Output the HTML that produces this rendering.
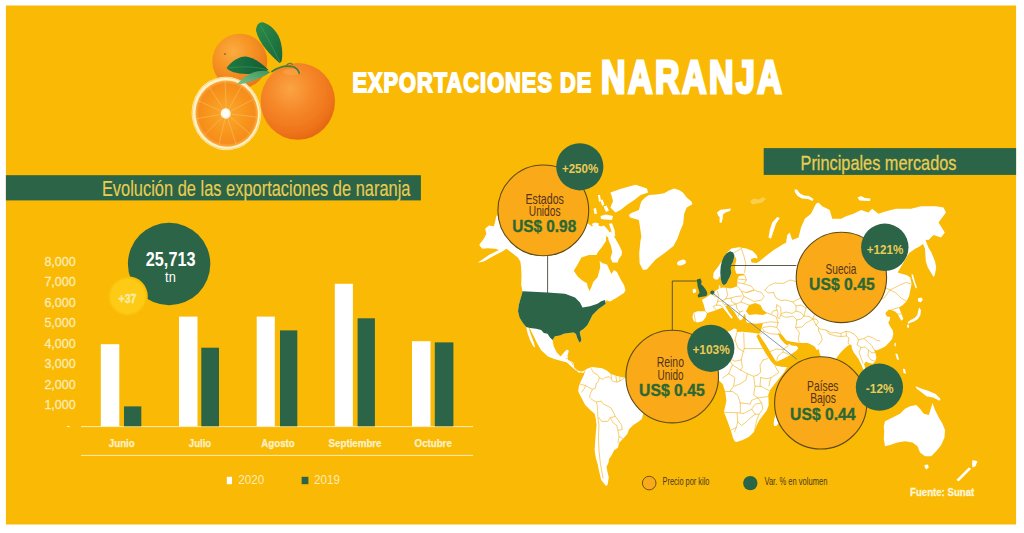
<!DOCTYPE html>
<html lang="es"><head><meta charset="utf-8"><title>Exportaciones de naranja</title>
<style>
html,body{margin:0;padding:0;background:#fff;}
body{width:1024px;height:533px;overflow:hidden;}
svg{display:block;font-family:"Liberation Sans",sans-serif;}
</style></head><body>
<svg width="1024" height="533" viewBox="0 0 1024 533">
<defs>
<radialGradient id="gBack" cx="0.38" cy="0.32" r="0.75">
  <stop offset="0" stop-color="#FBAC40"/><stop offset="0.45" stop-color="#F69324"/><stop offset="1" stop-color="#E87418"/>
</radialGradient>
<radialGradient id="gFront" cx="0.40" cy="0.34" r="0.72">
  <stop offset="0" stop-color="#FBA443"/><stop offset="0.4" stop-color="#F6892A"/><stop offset="0.8" stop-color="#EE731A"/><stop offset="1" stop-color="#E0640F"/>
</radialGradient>
<radialGradient id="gFlesh" cx="0.5" cy="0.5" r="0.5">
  <stop offset="0" stop-color="#FAA832"/><stop offset="0.55" stop-color="#F8981F"/><stop offset="0.9" stop-color="#F68C1E"/><stop offset="1" stop-color="#FBB040"/>
</radialGradient>
<linearGradient id="gLeaf1" x1="0" y1="0" x2="1" y2="1">
  <stop offset="0" stop-color="#2E8B4A"/><stop offset="1" stop-color="#17683A"/>
</linearGradient>
<linearGradient id="gLeaf2" x1="0" y1="0" x2="1" y2="0">
  <stop offset="0" stop-color="#1F7A42"/><stop offset="1" stop-color="#125C33"/>
</linearGradient>
<linearGradient id="gLeaf3" x1="0" y1="1" x2="1" y2="0">
  <stop offset="0" stop-color="#7DBE8C"/><stop offset="1" stop-color="#3E955A"/>
</linearGradient>
<filter id="soft" x="-5%" y="-5%" width="110%" height="110%"><feGaussianBlur stdDeviation="0.45"/></filter>
<filter id="soft2" x="-10%" y="-10%" width="120%" height="120%"><feGaussianBlur stdDeviation="0.9"/></filter>

</defs>
<rect x="0" y="0" width="1024" height="533" fill="#fff"/>
<rect x="5.9" y="5.5" width="1010.2" height="519" fill="#F9B905"/>
<g id="oranges" filter="url(#soft)">
<circle cx="239.8" cy="61.2" r="27.5" fill="url(#gBack)"/>
<circle cx="225" cy="54" r="1.1" fill="#8a5a1a" opacity="0.7"/>
<ellipse cx="297.8" cy="101.4" rx="37.2" ry="38.4" fill="url(#gFront)"/>
<ellipse cx="292" cy="72" rx="9" ry="3.2" fill="#F9A94C" opacity="0.55"/>
<g transform="rotate(-8 226.3 113.4)">
<ellipse cx="226.3" cy="113.4" rx="34.6" ry="36.8" fill="#FFF1C8"/>
<ellipse cx="226.3" cy="113.4" rx="33.800000000000004" ry="36.0" fill="none" stroke="#FAD06A" stroke-width="0.8"/>
<ellipse cx="226.70000000000002" cy="113.7" rx="31.200000000000003" ry="33.199999999999996" fill="url(#gFlesh)"/>
<path d="M231.3 114.7 L255.8 121.4" stroke="#FCC45E" stroke-width="0.9" opacity="0.55"/>
<path d="M229.8 117.4 L247.0 137.1" stroke="#FCC45E" stroke-width="0.9" opacity="0.55"/>
<path d="M227.2 118.7 L231.7 145.3" stroke="#FCC45E" stroke-width="0.9" opacity="0.55"/>
<path d="M224.3 118.4 L214.7 143.3" stroke="#FCC45E" stroke-width="0.9" opacity="0.55"/>
<path d="M222.0 116.5 L201.3 131.9" stroke="#FCC45E" stroke-width="0.9" opacity="0.55"/>
<path d="M221.1 113.6 L195.9 114.6" stroke="#FCC45E" stroke-width="0.9" opacity="0.55"/>
<path d="M221.8 110.6 L200.2 96.9" stroke="#FCC45E" stroke-width="0.9" opacity="0.55"/>
<path d="M224.0 108.6 L212.7 84.4" stroke="#FCC45E" stroke-width="0.9" opacity="0.55"/>
<path d="M226.9 108.0 L229.6 81.2" stroke="#FCC45E" stroke-width="0.9" opacity="0.55"/>
<path d="M229.6 109.2 L245.4 88.2" stroke="#FCC45E" stroke-width="0.9" opacity="0.55"/>
<path d="M231.2 111.7 L255.1 103.2" stroke="#FCC45E" stroke-width="0.9" opacity="0.55"/>
<ellipse cx="225.70000000000002" cy="113.4" rx="5" ry="5.2" fill="#FFF6DC"/>
<ellipse cx="225.70000000000002" cy="113.4" rx="3.2" ry="3.4" fill="#fff"/>
</g>
<path d="M272 71.5 Q283 64 294 67 Q298.5 69.5 299.2 73.2" fill="none" stroke="#3F7F3A" stroke-width="1.7" stroke-linecap="round"/>
<path d="M286 65.6 Q290 61.5 292.5 64.5" fill="none" stroke="#5c7a2e" stroke-width="1.1" stroke-linecap="round"/>
<path d="M279.5 63 C270 55 259 43 256 30.5 C256.2 24.5 259.5 21.8 262.8 22.2 C269.5 24 276.5 30.5 279.4 38 C282.4 46 283 55 281.4 61.8 Z" fill="url(#gLeaf1)"/>
<path d="M279.8 62 C273 48 266 35 260.5 25.5" fill="none" stroke="#4FA868" stroke-width="0.6" opacity="0.8"/>
<path d="M268.5 70 C263 64 255 58 246 56.4 C240 56 231 61 226.6 68 C229 71.5 236 73.6 246.4 74 C255 74.2 263 72.8 268.5 70 Z" fill="url(#gLeaf2)"/>
<path d="M267 69.8 C256 66.5 242 66 228.5 68" fill="none" stroke="#4FA868" stroke-width="0.6" opacity="0.7"/>
<path d="M270.5 72 C265 70 258 70.6 251 73.4 C245 76 240 80 237 84.6 C242 84.4 249 82.4 256 79.6 C262 77.2 267 75 270.5 72 Z" fill="url(#gLeaf3)"/>
</g>
<text x="352.4" y="92.4" font-size="27.4" fill="#fff" font-weight="bold" text-anchor="start" textLength="240" lengthAdjust="spacingAndGlyphs" stroke="#fff" stroke-width="1.8" stroke-linejoin="miter" letter-spacing="1.3">EXPORTACIONES DE</text>
<text x="600.9" y="92.5" font-size="46.4" fill="#fff" font-weight="bold" text-anchor="start" textLength="183.4" lengthAdjust="spacingAndGlyphs" stroke="#fff" stroke-width="3.0" stroke-linejoin="miter" letter-spacing="3.4">NARANJA</text>
<rect x="5.9" y="175.2" width="415" height="25.2" fill="#2B6446"/>
<text x="101.9" y="196.0" font-size="21.2" fill="#E9CD52" font-weight="normal" text-anchor="start" textLength="308.6" lengthAdjust="spacingAndGlyphs" stroke="#E9CD52" stroke-width="0.15">Evolución de las exportaciones de naranja</text>
<text x="44.4" y="265.7" font-size="12.6" fill="#FDEBB5" font-weight="normal" text-anchor="start" textLength="31.4" lengthAdjust="spacingAndGlyphs" stroke="#FDEBB5" stroke-width="0.3">8,000</text>
<text x="44.4" y="286.2" font-size="12.6" fill="#FDEBB5" font-weight="normal" text-anchor="start" textLength="31.4" lengthAdjust="spacingAndGlyphs" stroke="#FDEBB5" stroke-width="0.3">7,000</text>
<text x="44.4" y="306.7" font-size="12.6" fill="#FDEBB5" font-weight="normal" text-anchor="start" textLength="31.4" lengthAdjust="spacingAndGlyphs" stroke="#FDEBB5" stroke-width="0.3">6,000</text>
<text x="44.4" y="327.2" font-size="12.6" fill="#FDEBB5" font-weight="normal" text-anchor="start" textLength="31.4" lengthAdjust="spacingAndGlyphs" stroke="#FDEBB5" stroke-width="0.3">5,000</text>
<text x="44.4" y="347.7" font-size="12.6" fill="#FDEBB5" font-weight="normal" text-anchor="start" textLength="31.4" lengthAdjust="spacingAndGlyphs" stroke="#FDEBB5" stroke-width="0.3">4,000</text>
<text x="44.4" y="368.2" font-size="12.6" fill="#FDEBB5" font-weight="normal" text-anchor="start" textLength="31.4" lengthAdjust="spacingAndGlyphs" stroke="#FDEBB5" stroke-width="0.3">3,000</text>
<text x="44.4" y="388.7" font-size="12.6" fill="#FDEBB5" font-weight="normal" text-anchor="start" textLength="31.4" lengthAdjust="spacingAndGlyphs" stroke="#FDEBB5" stroke-width="0.3">2,000</text>
<text x="44.4" y="409.2" font-size="12.6" fill="#FDEBB5" font-weight="normal" text-anchor="start" textLength="31.4" lengthAdjust="spacingAndGlyphs" stroke="#FDEBB5" stroke-width="0.3">1,000</text>
<text x="66.5" y="430" font-size="12" fill="#FDEBB5" font-weight="normal" text-anchor="start">-</text>
<rect x="81" y="426.1" width="392" height="1" fill="#FDEBB5"/>
<rect x="81" y="454.9" width="392" height="1" fill="#FDEBB5"/>
<rect x="100.8" y="344.2" width="18.5" height="82.1" fill="#fff"/>
<rect x="124.0" y="406.4" width="17.3" height="19.9" fill="#2B6446"/>
<rect x="179.0" y="316.6" width="18.5" height="109.7" fill="#fff"/>
<rect x="201.3" y="347.7" width="17.7" height="78.6" fill="#2B6446"/>
<rect x="256.7" y="316.6" width="18.1" height="109.7" fill="#fff"/>
<rect x="280.0" y="330.4" width="17.3" height="95.9" fill="#2B6446"/>
<rect x="334.8" y="283.8" width="18.1" height="142.5" fill="#fff"/>
<rect x="357.6" y="318.3" width="17.3" height="108.0" fill="#2B6446"/>
<rect x="412.0" y="341.2" width="18.5" height="85.1" fill="#fff"/>
<rect x="434.8" y="342.4" width="18.6" height="83.9" fill="#2B6446"/>
<text x="108.8" y="447.4" font-size="10.5" fill="#FEF1C6" font-weight="bold" text-anchor="start" textLength="25.9" lengthAdjust="spacingAndGlyphs" stroke="#FEF1C6" stroke-width="0.25">Junio</text>
<text x="188.8" y="447.4" font-size="10.5" fill="#FEF1C6" font-weight="bold" text-anchor="start" textLength="22.4" lengthAdjust="spacingAndGlyphs" stroke="#FEF1C6" stroke-width="0.25">Julio</text>
<text x="261.3" y="447.4" font-size="10.5" fill="#FEF1C6" font-weight="bold" text-anchor="start" textLength="33.4" lengthAdjust="spacingAndGlyphs" stroke="#FEF1C6" stroke-width="0.25">Agosto</text>
<text x="328.6" y="447.4" font-size="10.5" fill="#FEF1C6" font-weight="bold" text-anchor="start" textLength="52.9" lengthAdjust="spacingAndGlyphs" stroke="#FEF1C6" stroke-width="0.25">Septiembre</text>
<text x="414.6" y="447.4" font-size="10.5" fill="#FEF1C6" font-weight="bold" text-anchor="start" textLength="37.2" lengthAdjust="spacingAndGlyphs" stroke="#FEF1C6" stroke-width="0.25">Octubre</text>
<rect x="226.8" y="476.8" width="5.2" height="7.4" fill="#fff"/>
<text x="238.3" y="484.2" font-size="12.1" fill="#FDEBB5" font-weight="normal" text-anchor="start" textLength="25.9" lengthAdjust="spacingAndGlyphs">2020</text>
<rect x="301.6" y="476.8" width="6.8" height="7.4" fill="#2B6446"/>
<text x="314" y="484.2" font-size="12.1" fill="#FDEBB5" font-weight="normal" text-anchor="start" textLength="25.9" lengthAdjust="spacingAndGlyphs">2019</text>
<circle cx="169.1" cy="264" r="41.2" fill="#2B6446"/>
<circle cx="127.6" cy="296.4" r="20.2" fill="#F9B905"/>
<circle cx="127.6" cy="296.4" r="18.3" fill="#FDCB12" filter="url(#soft2)"/>
<text x="145.8" y="266" font-size="21" fill="#fff" font-weight="bold" text-anchor="start" textLength="49.7" lengthAdjust="spacingAndGlyphs">25,713</text>
<text x="165.1" y="281.7" font-size="14" fill="#fff" font-weight="normal" text-anchor="start" textLength="10.7" lengthAdjust="spacingAndGlyphs">tn</text>
<text x="118.6" y="303.2" font-size="13.5" fill="#FCEBA8" font-weight="bold" text-anchor="start" textLength="17.8" lengthAdjust="spacingAndGlyphs" stroke="#FCEBA8" stroke-width="0.4">+37</text>
<rect x="763.7" y="148.1" width="252.4" height="26.8" fill="#2B6446"/>
<text x="800.5" y="170.0" font-size="20.8" fill="#E9CD52" font-weight="normal" text-anchor="start" textLength="156" lengthAdjust="spacingAndGlyphs" stroke="#E9CD52" stroke-width="0.3">Principales mercados</text>
<g id="map">
<clipPath id="landclip">
<path d="M479.4 244.4 L483.8 238.8 L486.4 233.7 L485.1 228.7 L488.9 225.6 L493.9 226.2 L495.2 221.2 L496.4 215.5 L498.3 216.1 L499.6 221.2 L510.0 218.0 L525.0 216.5 L540.0 217.0 L555.0 218.5 L570.0 221.0 L583.0 224.5 L588.0 223.5 L592.0 226.5 L596.0 224.5 L601.0 226.5 L604.0 231.0 L606.0 236.0 L606.0 241.0 L602.0 247.0 L598.0 252.0 L596.5 255.0 L588.9 255.0 L581.4 257.6 L577.6 264.5 L573.8 270.8 L577.6 276.4 L582.6 280.8 L587.0 283.3 L587.7 287.0 L589.6 290.9 L591.4 287.0 L593.3 282.0 L597.7 277.0 L600.3 267.0 L599.6 260.7 L602.0 263.0 L607.0 264.5 L609.5 270.0 L611.5 274.0 L614.0 270.0 L617.0 272.0 L620.4 279.0 L624.0 285.0 L625.5 290.0 L624.0 293.0 L620.0 295.5 L616.2 298.0 L610.0 301.5 L606.2 300.3 L605.8 303.8 L602.5 306.2 L598.8 308.8 L596.2 311.2 L592.5 315.0 L590.0 320.0 L587.5 325.0 L583.8 328.8 L580.0 331.2 L579.8 333.0 L580.8 336.8 L581.4 340.6 L579.6 342.8 L577.2 338.1 L576.0 333.9 L573.8 332.5 L568.8 333.0 L563.8 333.8 L560.0 335.5 L555.0 336.2 L552.5 340.0 L553.7 346.3 L556.8 352.6 L560.6 356.4 L564.4 352.0 L566.9 349.4 L568.8 350.7 L567.5 355.7 L568.1 360.1 L573.2 362.6 L574.4 367.7 L578.2 370.8 L582.0 371.4 L585.7 370.0 L583.2 373.0 L578.8 372.5 L575.7 370.2 L571.9 367.0 L566.9 362.6 L560.6 360.8 L554.3 358.9 L548.0 356.4 L541.2 350.2 L537.5 344.0 L533.8 336.5 L531.2 331.2 L530.0 328.5 L526.2 327.0 L522.5 322.5 L519.5 317.5 L518.0 311.2 L518.8 305.0 L520.5 298.8 L522.0 293.8 L522.5 291.2 L521.2 285.0 L521.5 275.0 L521.0 266.0 L520.3 261.4 L517.8 257.6 L511.5 252.6 L506.5 248.8 L501.4 252.0 L492.6 256.4 L483.8 261.4 L477.5 262.7 L481.3 260.2 L488.9 255.1 L499.0 250.0 L495.2 248.8 L487.6 248.2 L482.6 248.8 L480.0 246.3Z" fill="#fff"/>
<path d="M526.2 327.0 L528.5 327.6 L531.0 335.0 L534.0 343.0 L535.2 347.5 L533.4 346.5 L530.0 340.0 L527.5 333.0Z" fill="#fff"/>
<path d="M607.5 233.0 L611.0 231.5 L615.0 238.0 L619.0 245.0 L622.0 251.5 L621.5 255.5 L619.0 258.5 L617.6 262.6 L612.5 262.4 L610.5 258.0 L612.3 252.0 L611.0 246.0 L608.5 240.0Z" fill="#fff"/>
<path d="M610.4 192.4 L621.8 188.6 L635.6 184.8 L646.9 188.6 L648.2 192.4 L640.6 194.9 L634.3 199.9 L626.8 204.9 L620.5 210.0 L615.5 212.5 L610.4 207.4 L613.0 201.2 L611.7 196.1Z" fill="#fff"/>
<path d="M598.0 195.0 L600.0 195.0 L601.0 201.0 L599.0 202.0Z" fill="#fff"/>
<path d="M593.5 208.7 L596.0 208.0 L597.0 213.7 L594.5 214.0Z" fill="#fff"/>
<path d="M600.5 216.0 L606.0 214.5 L613.0 216.0 L612.0 220.0 L605.0 219.5 L601.0 219.0Z" fill="#fff"/>
<path d="M591.6 224.0 L595.0 222.5 L599.0 223.5 L598.0 226.3 L593.0 226.0Z" fill="#fff"/>
<path d="M599.5 227.0 L604.0 225.5 L608.5 230.5 L611.0 236.5 L607.0 237.0 L602.5 231.5Z" fill="#fff"/>
<path d="M609.0 223.8 L612.0 223.2 L614.6 230.0 L615.2 236.0 L613.0 236.6 L611.0 230.0Z" fill="#fff"/>
<path d="M600.4 200.0 L602.6 199.5 L604.4 205.0 L602.0 205.8Z" fill="#fff"/>
<path d="M603.5 206.5 L606.5 205.5 L609.0 210.5 L606.0 212.0Z" fill="#fff"/>
<path d="M588.0 229.0 L591.0 227.0 L594.0 229.5 L592.5 233.0 L589.0 233.0Z" fill="#fff"/>
<path d="M645.2 197.4 L649.0 194.9 L656.5 194.5 L664.1 193.3 L669.0 190.5 L674.1 188.6 L679.0 190.0 L682.9 192.4 L686.7 197.4 L691.7 201.8 L692.4 204.3 L686.7 207.4 L684.2 213.7 L683.2 223.8 L680.0 231.3 L677.5 238.5 L673.5 246.0 L664.4 253.2 L655.6 259.4 L646.8 269.5 L643.0 270.1 L639.6 263.2 L639.2 253.2 L640.5 240.6 L641.4 236.4 L640.2 228.8 L638.9 220.0 L630.1 217.5 L628.8 215.0 L631.3 213.1 L638.9 210.0 L640.2 204.9 L641.4 201.2Z" fill="#fff"/>
<path d="M713.1 277.5 L713.7 272.5 L717.5 267.4 L721.9 261.2 L726.3 253.6 L731.3 248.6 L738.9 247.3 L746.4 248.6 L752.7 251.1 L756.5 254.9 L757.8 258.6 L754.0 258.0 L750.8 259.3 L751.5 262.4 L756.5 263.0 L759.6 261.2 L764.0 257.4 L769.1 253.6 L774.1 249.8 L779.1 246.7 L784.2 243.5 L786.0 243.0 L787.2 235.0 L789.8 232.5 L792.2 240.0 L798.5 237.5 L801.0 227.5 L804.8 218.8 L811.0 213.8 L816.0 203.8 L818.5 202.5 L822.2 206.2 L829.8 210.0 L832.2 218.8 L841.0 218.8 L846.0 216.2 L853.5 213.8 L861.0 210.0 L868.5 212.5 L872.2 208.8 L878.5 213.8 L886.0 211.2 L896.0 208.8 L911.0 208.8 L921.0 206.2 L936.0 206.2 L943.5 207.5 L946.0 212.5 L942.2 217.5 L938.5 222.5 L944.8 232.5 L941.0 237.5 L933.5 235.0 L928.5 240.0 L925.4 239.8 L928.4 247.6 L931.2 252.0 L935.0 261.2 L936.2 267.4 L934.8 275.0 L933.6 277.0 L931.2 273.0 L927.8 267.4 L925.8 261.2 L925.4 254.9 L925.0 248.6 L923.0 244.0 L919.8 246.2 L914.8 249.0 L909.1 253.0 L902.8 263.7 L899.0 270.0 L897.7 272.5 L901.5 273.7 L906.5 275.0 L910.3 277.5 L911.6 283.8 L910.3 290.1 L909.1 296.3 L906.5 301.3 L902.8 305.1 L899.0 307.6 L901.5 313.9 L903.4 318.9 L901.5 320.8 L899.6 317.7 L897.7 313.9 L895.2 311.4 L891.4 310.1 L888.9 309.5 L885.2 313.3 L887.0 316.4 L890.2 317.0 L889.6 320.2 L888.3 322.7 L890.2 326.5 L892.7 330.3 L893.3 334.0 L892.1 339.1 L888.9 342.8 L885.2 346.6 L880.1 349.1 L876.4 350.5 L873.5 349.0 L875.2 352.4 L876.5 357.4 L875.2 361.2 L872.7 363.7 L868.9 363.0 L866.0 361.5 L864.0 364.0 L866.0 370.0 L869.0 376.0 L871.0 380.0 L868.0 378.0 L864.0 371.0 L861.0 364.0 L858.5 359.0 L856.4 356.1 L853.8 352.4 L851.9 348.6 L851.3 344.5 L848.1 345.5 L844.3 348.7 L840.6 352.5 L836.8 357.5 L832.0 364.0 L827.0 370.0 L823.0 363.0 L820.7 356.2 L819.4 352.5 L818.9 349.3 L816.7 350.0 L814.8 346.8 L812.9 345.6 L807.9 343.0 L800.3 343.0 L791.5 341.8 L786.5 340.5 L780.8 333.6 L777.9 333.6 L780.2 338.5 L784.6 343.5 L787.7 345.4 L789.0 343.8 L791.5 345.4 L796.5 346.1 L798.4 348.0 L796.5 350.5 L790.2 354.9 L783.9 358.6 L776.4 361.8 L774.5 359.3 L770.1 351.7 L765.1 343.5 L760.0 336.0 L758.5 333.6 L760.4 333.2 L761.7 327.5 L763.0 323.1 L755.4 323.7 L746.6 322.5 L745.3 315.6 L744.1 313.7 L742.8 318.7 L740.3 320.6 L737.8 317.4 L734.0 311.2 L727.7 304.9 L725.2 306.1 L729.0 312.4 L732.8 317.4 L731.5 318.7 L727.7 313.7 L722.7 307.4 L721.4 308.0 L716.4 309.9 L711.4 311.8 L707.0 313.0 L705.7 317.4 L702.6 321.2 L697.5 322.5 L693.8 321.2 L692.5 317.4 L693.1 313.0 L697.5 311.2 L705.1 311.2 L705.1 309.9 L703.8 304.9 L702.0 299.8 L706.4 297.3 L710.1 294.8 L712.5 292.6 L715.0 291.3 L718.8 288.8 L718.8 285.7 L720.0 285.1 L720.7 288.2 L722.5 287.6 L726.3 287.8 L730.1 288.6 L733.9 287.6 L737.0 286.3 L737.3 282.5 L737.6 278.5 L739.0 276.0 L743.9 275.2 L744.6 274.0 L740.2 273.7 L736.4 273.7 L734.8 268.7 L735.4 263.7 L736.4 259.9 L735.8 257.4 L734.8 256.5 L733.2 261.2 L731.3 264.9 L730.7 268.7 L731.3 272.5 L730.1 276.3 L728.2 280.0 L726.3 283.8 L723.8 285.3 L721.9 283.2 L720.7 278.8 L720.0 276.0 L718.0 279.5 L715.0 279.4Z" fill="#fff"/>
<path d="M692.6 289.5 L695.0 288.6 L696.3 290.5 L695.6 292.8 L693.0 293.0Z" fill="#fff"/>
<path d="M717.0 212.5 L720.5 209.8 L725.0 209.2 L731.0 208.4 L730.0 211.0 L725.5 212.6 L723.0 214.5 L722.6 219.0 L721.4 223.0 L719.6 222.4 L719.6 217.0 L718.0 215.5Z" fill="#fff"/>
<path d="M768.5 237.5 L769.8 230.0 L772.2 222.5 L777.2 217.0 L779.8 218.0 L776.0 223.8 L773.5 231.2 L771.0 238.8Z" fill="#fff"/>
<path d="M794.5 189.5 L797.0 189.5 L800.0 193.5 L804.0 195.5 L809.0 196.0 L813.5 199.0 L812.5 201.0 L808.0 199.0 L802.0 198.5 L797.5 196.0 L795.0 192.5Z" fill="#fff"/>
<path d="M857.5 197.5 L861.0 196.0 L865.0 198.0 L870.5 198.5 L870.0 201.0 L864.0 200.8 L859.5 200.5Z" fill="#fff"/>
<path d="M911.6 274.2 L913.0 274.5 L915.2 282.5 L917.0 287.6 L915.8 288.4 L913.8 283.2 L911.8 277.0Z" fill="#fff"/>
<path d="M917.9 298.2 L921.6 297.5 L922.9 300.1 L920.4 302.6 L918.1 301.3Z" fill="#fff"/>
<path d="M919.1 307.6 L921.0 310.1 L920.4 315.2 L917.9 318.9 L914.1 321.4 L910.3 322.7 L908.4 324.0 L907.8 322.1 L910.3 320.2 L914.1 318.3 L917.2 315.2 L918.1 311.4Z" fill="#fff"/>
<path d="M907.2 324.6 L909.1 325.0 L908.8 327.7 L907.0 327.5Z" fill="#fff"/>
<path d="M894.6 342.8 L895.9 343.2 L895.5 346.6 L894.4 346.0Z" fill="#fff"/>
<path d="M895.3 353.6 L897.5 354.0 L899.1 359.9 L897.0 359.5Z" fill="#fff"/>
<path d="M902.9 368.7 L905.0 369.0 L906.0 373.7 L903.5 373.0Z" fill="#fff"/>
<path d="M915.5 386.3 L921.8 388.8 L928.1 390.7 L935.6 393.9 L940.6 398.9 L939.4 400.8 L933.1 397.6 L926.8 396.4 L921.8 392.6 L916.7 388.8Z" fill="#fff"/>
<path d="M703.0 334.5 L712.0 333.5 L722.0 332.5 L730.0 331.0 L734.0 328.5 L736.5 329.0 L737.0 332.0 L742.5 331.8 L752.5 332.8 L758.8 333.8 L756.3 336.0 L760.7 344.8 L765.7 353.6 L771.3 361.8 L774.5 364.9 L775.1 365.6 L781.4 366.8 L787.0 367.2 L783.9 372.5 L778.9 378.8 L773.9 385.1 L770.1 390.1 L768.2 395.1 L768.6 401.0 L768.6 405.4 L766.7 410.4 L762.9 415.4 L759.1 420.5 L756.6 425.5 L754.1 431.8 L749.1 436.8 L742.8 440.0 L736.5 441.9 L734.6 441.2 L733.0 438.1 L730.8 430.5 L727.7 421.7 L723.9 411.7 L725.5 405.0 L726.4 400.4 L725.2 391.5 L722.6 384.0 L718.0 379.5 L712.0 378.5 L704.0 381.0 L696.0 381.0 L690.0 377.0 L686.0 372.0 L683.0 366.0 L684.0 360.0 L688.0 352.0 L692.0 345.0 L697.0 339.0Z" fill="#fff"/>
<path d="M773.6 424.0 L774.5 418.0 L777.0 412.0 L780.0 407.0 L782.5 408.0 L782.0 415.0 L779.5 422.0 L776.5 426.0 L774.2 426.0Z" fill="#fff"/>
<path d="M585.7 369.6 L588.3 368.3 L592.0 367.0 L598.3 367.7 L602.1 368.3 L607.1 370.8 L610.9 374.0 L615.9 375.8 L621.0 377.1 L624.7 377.7 L632.0 381.0 L640.0 385.5 L646.0 390.5 L649.5 396.0 L648.5 403.0 L645.5 410.0 L643.0 414.5 L641.8 418.9 L638.0 422.0 L633.0 425.2 L629.2 428.9 L627.3 434.0 L622.9 439.0 L619.1 442.8 L617.9 447.8 L614.1 450.3 L611.6 455.3 L609.1 459.1 L608.4 462.9 L606.5 467.0 L607.5 472.0 L608.8 477.5 L607.5 485.0 L606.0 486.0 L601.2 480.0 L598.8 470.0 L597.7 464.2 L595.8 457.9 L594.6 450.3 L595.2 441.5 L595.8 432.7 L596.5 425.2 L595.8 418.9 L594.6 413.8 L590.2 410.1 L585.2 405.0 L582.6 400.0 L580.7 396.6 L578.2 391.6 L578.8 386.5 L580.7 381.5 L583.8 375.2Z" fill="#fff"/>
<path d="M883.8 426.2 L885.0 421.2 L892.5 417.5 L900.0 413.8 L905.0 408.8 L910.0 406.2 L916.2 405.0 L920.0 408.8 L923.8 413.8 L928.8 415.0 L931.2 407.5 L932.5 403.0 L935.0 410.0 L938.8 417.5 L942.5 423.8 L945.0 430.0 L944.5 437.5 L941.2 445.0 L936.2 451.2 L931.2 456.2 L925.0 456.2 L920.0 452.5 L917.5 446.2 L912.5 442.5 L905.0 441.2 L897.5 442.5 L890.0 445.0 L885.0 446.2 L883.8 438.8 L884.2 431.2Z" fill="#fff"/>
<path d="M924.5 465.0 L928.0 464.5 L928.8 467.5 L926.2 469.5 L924.8 467.5Z" fill="#fff"/>
<path d="M972.5 460.0 L977.5 461.2 L975.5 466.2 L972.5 467.5 L972.0 463.8Z" fill="#fff"/>
<path d="M971.2 468.8 L965.0 475.0 L958.8 481.2 L956.2 480.0 L962.5 473.8 L968.8 467.5Z" fill="#fff"/>
</clipPath>
<path d="M479.4 244.4 L483.8 238.8 L486.4 233.7 L485.1 228.7 L488.9 225.6 L493.9 226.2 L495.2 221.2 L496.4 215.5 L498.3 216.1 L499.6 221.2 L510.0 218.0 L525.0 216.5 L540.0 217.0 L555.0 218.5 L570.0 221.0 L583.0 224.5 L588.0 223.5 L592.0 226.5 L596.0 224.5 L601.0 226.5 L604.0 231.0 L606.0 236.0 L606.0 241.0 L602.0 247.0 L598.0 252.0 L596.5 255.0 L588.9 255.0 L581.4 257.6 L577.6 264.5 L573.8 270.8 L577.6 276.4 L582.6 280.8 L587.0 283.3 L587.7 287.0 L589.6 290.9 L591.4 287.0 L593.3 282.0 L597.7 277.0 L600.3 267.0 L599.6 260.7 L602.0 263.0 L607.0 264.5 L609.5 270.0 L611.5 274.0 L614.0 270.0 L617.0 272.0 L620.4 279.0 L624.0 285.0 L625.5 290.0 L624.0 293.0 L620.0 295.5 L616.2 298.0 L610.0 301.5 L606.2 300.3 L605.8 303.8 L602.5 306.2 L598.8 308.8 L596.2 311.2 L592.5 315.0 L590.0 320.0 L587.5 325.0 L583.8 328.8 L580.0 331.2 L579.8 333.0 L580.8 336.8 L581.4 340.6 L579.6 342.8 L577.2 338.1 L576.0 333.9 L573.8 332.5 L568.8 333.0 L563.8 333.8 L560.0 335.5 L555.0 336.2 L552.5 340.0 L553.7 346.3 L556.8 352.6 L560.6 356.4 L564.4 352.0 L566.9 349.4 L568.8 350.7 L567.5 355.7 L568.1 360.1 L573.2 362.6 L574.4 367.7 L578.2 370.8 L582.0 371.4 L585.7 370.0 L583.2 373.0 L578.8 372.5 L575.7 370.2 L571.9 367.0 L566.9 362.6 L560.6 360.8 L554.3 358.9 L548.0 356.4 L541.2 350.2 L537.5 344.0 L533.8 336.5 L531.2 331.2 L530.0 328.5 L526.2 327.0 L522.5 322.5 L519.5 317.5 L518.0 311.2 L518.8 305.0 L520.5 298.8 L522.0 293.8 L522.5 291.2 L521.2 285.0 L521.5 275.0 L521.0 266.0 L520.3 261.4 L517.8 257.6 L511.5 252.6 L506.5 248.8 L501.4 252.0 L492.6 256.4 L483.8 261.4 L477.5 262.7 L481.3 260.2 L488.9 255.1 L499.0 250.0 L495.2 248.8 L487.6 248.2 L482.6 248.8 L480.0 246.3Z" fill="#fff"/>
<path d="M526.2 327.0 L528.5 327.6 L531.0 335.0 L534.0 343.0 L535.2 347.5 L533.4 346.5 L530.0 340.0 L527.5 333.0Z" fill="#fff"/>
<path d="M607.5 233.0 L611.0 231.5 L615.0 238.0 L619.0 245.0 L622.0 251.5 L621.5 255.5 L619.0 258.5 L617.6 262.6 L612.5 262.4 L610.5 258.0 L612.3 252.0 L611.0 246.0 L608.5 240.0Z" fill="#fff"/>
<path d="M610.4 192.4 L621.8 188.6 L635.6 184.8 L646.9 188.6 L648.2 192.4 L640.6 194.9 L634.3 199.9 L626.8 204.9 L620.5 210.0 L615.5 212.5 L610.4 207.4 L613.0 201.2 L611.7 196.1Z" fill="#fff"/>
<path d="M598.0 195.0 L600.0 195.0 L601.0 201.0 L599.0 202.0Z" fill="#fff"/>
<path d="M593.5 208.7 L596.0 208.0 L597.0 213.7 L594.5 214.0Z" fill="#fff"/>
<path d="M600.5 216.0 L606.0 214.5 L613.0 216.0 L612.0 220.0 L605.0 219.5 L601.0 219.0Z" fill="#fff"/>
<path d="M591.6 224.0 L595.0 222.5 L599.0 223.5 L598.0 226.3 L593.0 226.0Z" fill="#fff"/>
<path d="M599.5 227.0 L604.0 225.5 L608.5 230.5 L611.0 236.5 L607.0 237.0 L602.5 231.5Z" fill="#fff"/>
<path d="M609.0 223.8 L612.0 223.2 L614.6 230.0 L615.2 236.0 L613.0 236.6 L611.0 230.0Z" fill="#fff"/>
<path d="M600.4 200.0 L602.6 199.5 L604.4 205.0 L602.0 205.8Z" fill="#fff"/>
<path d="M603.5 206.5 L606.5 205.5 L609.0 210.5 L606.0 212.0Z" fill="#fff"/>
<path d="M588.0 229.0 L591.0 227.0 L594.0 229.5 L592.5 233.0 L589.0 233.0Z" fill="#fff"/>
<path d="M645.2 197.4 L649.0 194.9 L656.5 194.5 L664.1 193.3 L669.0 190.5 L674.1 188.6 L679.0 190.0 L682.9 192.4 L686.7 197.4 L691.7 201.8 L692.4 204.3 L686.7 207.4 L684.2 213.7 L683.2 223.8 L680.0 231.3 L677.5 238.5 L673.5 246.0 L664.4 253.2 L655.6 259.4 L646.8 269.5 L643.0 270.1 L639.6 263.2 L639.2 253.2 L640.5 240.6 L641.4 236.4 L640.2 228.8 L638.9 220.0 L630.1 217.5 L628.8 215.0 L631.3 213.1 L638.9 210.0 L640.2 204.9 L641.4 201.2Z" fill="#fff"/>
<path d="M713.1 277.5 L713.7 272.5 L717.5 267.4 L721.9 261.2 L726.3 253.6 L731.3 248.6 L738.9 247.3 L746.4 248.6 L752.7 251.1 L756.5 254.9 L757.8 258.6 L754.0 258.0 L750.8 259.3 L751.5 262.4 L756.5 263.0 L759.6 261.2 L764.0 257.4 L769.1 253.6 L774.1 249.8 L779.1 246.7 L784.2 243.5 L786.0 243.0 L787.2 235.0 L789.8 232.5 L792.2 240.0 L798.5 237.5 L801.0 227.5 L804.8 218.8 L811.0 213.8 L816.0 203.8 L818.5 202.5 L822.2 206.2 L829.8 210.0 L832.2 218.8 L841.0 218.8 L846.0 216.2 L853.5 213.8 L861.0 210.0 L868.5 212.5 L872.2 208.8 L878.5 213.8 L886.0 211.2 L896.0 208.8 L911.0 208.8 L921.0 206.2 L936.0 206.2 L943.5 207.5 L946.0 212.5 L942.2 217.5 L938.5 222.5 L944.8 232.5 L941.0 237.5 L933.5 235.0 L928.5 240.0 L925.4 239.8 L928.4 247.6 L931.2 252.0 L935.0 261.2 L936.2 267.4 L934.8 275.0 L933.6 277.0 L931.2 273.0 L927.8 267.4 L925.8 261.2 L925.4 254.9 L925.0 248.6 L923.0 244.0 L919.8 246.2 L914.8 249.0 L909.1 253.0 L902.8 263.7 L899.0 270.0 L897.7 272.5 L901.5 273.7 L906.5 275.0 L910.3 277.5 L911.6 283.8 L910.3 290.1 L909.1 296.3 L906.5 301.3 L902.8 305.1 L899.0 307.6 L901.5 313.9 L903.4 318.9 L901.5 320.8 L899.6 317.7 L897.7 313.9 L895.2 311.4 L891.4 310.1 L888.9 309.5 L885.2 313.3 L887.0 316.4 L890.2 317.0 L889.6 320.2 L888.3 322.7 L890.2 326.5 L892.7 330.3 L893.3 334.0 L892.1 339.1 L888.9 342.8 L885.2 346.6 L880.1 349.1 L876.4 350.5 L873.5 349.0 L875.2 352.4 L876.5 357.4 L875.2 361.2 L872.7 363.7 L868.9 363.0 L866.0 361.5 L864.0 364.0 L866.0 370.0 L869.0 376.0 L871.0 380.0 L868.0 378.0 L864.0 371.0 L861.0 364.0 L858.5 359.0 L856.4 356.1 L853.8 352.4 L851.9 348.6 L851.3 344.5 L848.1 345.5 L844.3 348.7 L840.6 352.5 L836.8 357.5 L832.0 364.0 L827.0 370.0 L823.0 363.0 L820.7 356.2 L819.4 352.5 L818.9 349.3 L816.7 350.0 L814.8 346.8 L812.9 345.6 L807.9 343.0 L800.3 343.0 L791.5 341.8 L786.5 340.5 L780.8 333.6 L777.9 333.6 L780.2 338.5 L784.6 343.5 L787.7 345.4 L789.0 343.8 L791.5 345.4 L796.5 346.1 L798.4 348.0 L796.5 350.5 L790.2 354.9 L783.9 358.6 L776.4 361.8 L774.5 359.3 L770.1 351.7 L765.1 343.5 L760.0 336.0 L758.5 333.6 L760.4 333.2 L761.7 327.5 L763.0 323.1 L755.4 323.7 L746.6 322.5 L745.3 315.6 L744.1 313.7 L742.8 318.7 L740.3 320.6 L737.8 317.4 L734.0 311.2 L727.7 304.9 L725.2 306.1 L729.0 312.4 L732.8 317.4 L731.5 318.7 L727.7 313.7 L722.7 307.4 L721.4 308.0 L716.4 309.9 L711.4 311.8 L707.0 313.0 L705.7 317.4 L702.6 321.2 L697.5 322.5 L693.8 321.2 L692.5 317.4 L693.1 313.0 L697.5 311.2 L705.1 311.2 L705.1 309.9 L703.8 304.9 L702.0 299.8 L706.4 297.3 L710.1 294.8 L712.5 292.6 L715.0 291.3 L718.8 288.8 L718.8 285.7 L720.0 285.1 L720.7 288.2 L722.5 287.6 L726.3 287.8 L730.1 288.6 L733.9 287.6 L737.0 286.3 L737.3 282.5 L737.6 278.5 L739.0 276.0 L743.9 275.2 L744.6 274.0 L740.2 273.7 L736.4 273.7 L734.8 268.7 L735.4 263.7 L736.4 259.9 L735.8 257.4 L734.8 256.5 L733.2 261.2 L731.3 264.9 L730.7 268.7 L731.3 272.5 L730.1 276.3 L728.2 280.0 L726.3 283.8 L723.8 285.3 L721.9 283.2 L720.7 278.8 L720.0 276.0 L718.0 279.5 L715.0 279.4Z" fill="#fff"/>
<path d="M692.6 289.5 L695.0 288.6 L696.3 290.5 L695.6 292.8 L693.0 293.0Z" fill="#fff"/>
<path d="M717.0 212.5 L720.5 209.8 L725.0 209.2 L731.0 208.4 L730.0 211.0 L725.5 212.6 L723.0 214.5 L722.6 219.0 L721.4 223.0 L719.6 222.4 L719.6 217.0 L718.0 215.5Z" fill="#fff"/>
<path d="M768.5 237.5 L769.8 230.0 L772.2 222.5 L777.2 217.0 L779.8 218.0 L776.0 223.8 L773.5 231.2 L771.0 238.8Z" fill="#fff"/>
<path d="M794.5 189.5 L797.0 189.5 L800.0 193.5 L804.0 195.5 L809.0 196.0 L813.5 199.0 L812.5 201.0 L808.0 199.0 L802.0 198.5 L797.5 196.0 L795.0 192.5Z" fill="#fff"/>
<path d="M857.5 197.5 L861.0 196.0 L865.0 198.0 L870.5 198.5 L870.0 201.0 L864.0 200.8 L859.5 200.5Z" fill="#fff"/>
<path d="M911.6 274.2 L913.0 274.5 L915.2 282.5 L917.0 287.6 L915.8 288.4 L913.8 283.2 L911.8 277.0Z" fill="#fff"/>
<path d="M917.9 298.2 L921.6 297.5 L922.9 300.1 L920.4 302.6 L918.1 301.3Z" fill="#fff"/>
<path d="M919.1 307.6 L921.0 310.1 L920.4 315.2 L917.9 318.9 L914.1 321.4 L910.3 322.7 L908.4 324.0 L907.8 322.1 L910.3 320.2 L914.1 318.3 L917.2 315.2 L918.1 311.4Z" fill="#fff"/>
<path d="M907.2 324.6 L909.1 325.0 L908.8 327.7 L907.0 327.5Z" fill="#fff"/>
<path d="M894.6 342.8 L895.9 343.2 L895.5 346.6 L894.4 346.0Z" fill="#fff"/>
<path d="M895.3 353.6 L897.5 354.0 L899.1 359.9 L897.0 359.5Z" fill="#fff"/>
<path d="M902.9 368.7 L905.0 369.0 L906.0 373.7 L903.5 373.0Z" fill="#fff"/>
<path d="M915.5 386.3 L921.8 388.8 L928.1 390.7 L935.6 393.9 L940.6 398.9 L939.4 400.8 L933.1 397.6 L926.8 396.4 L921.8 392.6 L916.7 388.8Z" fill="#fff"/>
<path d="M703.0 334.5 L712.0 333.5 L722.0 332.5 L730.0 331.0 L734.0 328.5 L736.5 329.0 L737.0 332.0 L742.5 331.8 L752.5 332.8 L758.8 333.8 L756.3 336.0 L760.7 344.8 L765.7 353.6 L771.3 361.8 L774.5 364.9 L775.1 365.6 L781.4 366.8 L787.0 367.2 L783.9 372.5 L778.9 378.8 L773.9 385.1 L770.1 390.1 L768.2 395.1 L768.6 401.0 L768.6 405.4 L766.7 410.4 L762.9 415.4 L759.1 420.5 L756.6 425.5 L754.1 431.8 L749.1 436.8 L742.8 440.0 L736.5 441.9 L734.6 441.2 L733.0 438.1 L730.8 430.5 L727.7 421.7 L723.9 411.7 L725.5 405.0 L726.4 400.4 L725.2 391.5 L722.6 384.0 L718.0 379.5 L712.0 378.5 L704.0 381.0 L696.0 381.0 L690.0 377.0 L686.0 372.0 L683.0 366.0 L684.0 360.0 L688.0 352.0 L692.0 345.0 L697.0 339.0Z" fill="#fff"/>
<path d="M773.6 424.0 L774.5 418.0 L777.0 412.0 L780.0 407.0 L782.5 408.0 L782.0 415.0 L779.5 422.0 L776.5 426.0 L774.2 426.0Z" fill="#fff"/>
<path d="M585.7 369.6 L588.3 368.3 L592.0 367.0 L598.3 367.7 L602.1 368.3 L607.1 370.8 L610.9 374.0 L615.9 375.8 L621.0 377.1 L624.7 377.7 L632.0 381.0 L640.0 385.5 L646.0 390.5 L649.5 396.0 L648.5 403.0 L645.5 410.0 L643.0 414.5 L641.8 418.9 L638.0 422.0 L633.0 425.2 L629.2 428.9 L627.3 434.0 L622.9 439.0 L619.1 442.8 L617.9 447.8 L614.1 450.3 L611.6 455.3 L609.1 459.1 L608.4 462.9 L606.5 467.0 L607.5 472.0 L608.8 477.5 L607.5 485.0 L606.0 486.0 L601.2 480.0 L598.8 470.0 L597.7 464.2 L595.8 457.9 L594.6 450.3 L595.2 441.5 L595.8 432.7 L596.5 425.2 L595.8 418.9 L594.6 413.8 L590.2 410.1 L585.2 405.0 L582.6 400.0 L580.7 396.6 L578.2 391.6 L578.8 386.5 L580.7 381.5 L583.8 375.2Z" fill="#fff"/>
<path d="M883.8 426.2 L885.0 421.2 L892.5 417.5 L900.0 413.8 L905.0 408.8 L910.0 406.2 L916.2 405.0 L920.0 408.8 L923.8 413.8 L928.8 415.0 L931.2 407.5 L932.5 403.0 L935.0 410.0 L938.8 417.5 L942.5 423.8 L945.0 430.0 L944.5 437.5 L941.2 445.0 L936.2 451.2 L931.2 456.2 L925.0 456.2 L920.0 452.5 L917.5 446.2 L912.5 442.5 L905.0 441.2 L897.5 442.5 L890.0 445.0 L885.0 446.2 L883.8 438.8 L884.2 431.2Z" fill="#fff"/>
<path d="M924.5 465.0 L928.0 464.5 L928.8 467.5 L926.2 469.5 L924.8 467.5Z" fill="#fff"/>
<path d="M972.5 460.0 L977.5 461.2 L975.5 466.2 L972.5 467.5 L972.0 463.8Z" fill="#fff"/>
<path d="M971.2 468.8 L965.0 475.0 L958.8 481.2 L956.2 480.0 L962.5 473.8 L968.8 467.5Z" fill="#fff"/>
<path d="M746.0 311.2 L749.1 304.9 L755.4 303.0 L760.4 304.9 L763.0 309.9 L767.4 313.0 L763.0 314.9 L755.4 314.3 L749.1 314.9Z" fill="#F9B905"/>
<path d="M750 201 L754 198.5 L759 199.5 L763 197 L766 199 L762 202.5 L757 203.5 L752 204.5Z" fill="#fff" opacity="0.3"/>
<ellipse cx="681.5" cy="262.6" rx="4.6" ry="2.6" fill="#fff" transform="rotate(-18 681.5 262.6)"/>
<g clip-path="url(#landclip)" fill="none" stroke="#F2C24C" stroke-width="0.8" stroke-linejoin="round" stroke-linecap="round">
<path d="M591.4 368.8 L593.4 372.7 L597.3 374.6 L599.3 377.6 L598.3 381.5 L596.3 383.4"/>
<path d="M599.3 377.6 L603.2 379.5 L605.1 377.6 L609.0 376.6 L611.0 378.6 L612.9 381.5 L616.8 382.0 L619.8 381.0 L622.7 379.5 L624.2 378.1"/>
<path d="M611.0 373.7 L611.5 378.6"/>
<path d="M615.9 376.5 L616.8 382.0"/>
<path d="M619.8 377.0 L619.8 381.0"/>
<path d="M580.7 384.4 L585.6 385.4 L588.5 387.3 L592.4 389.3 L595.3 388.3 L596.3 383.4"/>
<path d="M585.6 385.4 L584.6 388.3 L581.7 392.2"/>
<path d="M592.4 389.3 L590.5 393.2 L589.5 397.1 L592.4 400.0 L596.3 402.0 L597.3 405.9 L597.7 411.8 L597.7 416.4 L599.0 425.2 L598.4 437.7 L599.0 450.3 L600.3 462.9 L603.0 478.0"/>
<path d="M596.3 402.0 L601.2 401.0 L603.2 403.9 L607.1 405.9 L611.0 407.9 L614.1 413.8 L615.3 416.4 L610.3 417.6 L607.8 421.4 L601.5 421.4 L599.0 417.6"/>
<path d="M615.3 416.4 L619.1 421.4 L621.6 425.2 L622.3 429.6 L617.9 430.2 L616.6 425.2 L612.8 422.6 L610.3 417.6"/>
<path d="M617.9 430.2 L619.1 436.5 L621.6 437.7 L622.9 439.0"/>
<path d="M619.1 436.5 L617.9 442.8"/>
<path d="M566.0 358.8 L569.0 358.5"/>
<path d="M571.5 362.0 L573.0 365.0"/>
<path d="M576.0 368.0 L577.0 371.5"/>
<path d="M580.5 370.0 L581.0 372.5"/>
<path d="M724.5 412.3 L740.3 412.9 L743.4 413.6"/>
<path d="M737.1 412.9 L737.7 421.7 L736.5 426.8 L734.6 431.8"/>
<path d="M730.2 430.5 L736.5 427.4"/>
<path d="M737.7 421.7 L741.5 425.5 L746.5 421.7 L750.3 418.0 L755.3 414.2 L751.6 409.2 L743.4 413.6"/>
<path d="M751.6 409.2 L755.3 404.1 L761.6 402.9 L762.9 409.2 L759.1 414.2 L755.3 414.2"/>
<path d="M740.3 402.9 L740.3 412.9"/>
<path d="M740.3 402.9 L750.3 404.1 L751.6 400.4 L757.9 397.8 L761.6 402.9"/>
<path d="M759.1 414.2 L756.6 420.5 L755.3 426.8 L754.1 431.8"/>
<path d="M725.2 391.5 L732.7 391.5 L737.7 395.3 L740.3 402.9"/>
<path d="M757.9 397.8 L767.9 396.6"/>
<path d="M743.7 333.0 L744.3 348.6"/>
<path d="M744.3 348.6 L763.2 348.6"/>
<path d="M744.3 348.6 L743.0 352.4 L741.2 359.9"/>
<path d="M741.2 359.9 L742.4 367.4 L740.5 370.0"/>
<path d="M763.2 359.9 L760.0 364.9 L760.7 372.5 L757.5 375.0"/>
<path d="M740.5 370.0 L747.4 373.7 L753.7 376.3 L757.5 375.0"/>
<path d="M775.1 366.2 L778.9 372.5 L771.3 377.5 L770.1 380.0 L769.0 386.0"/>
<path d="M760.7 377.5 L766.3 378.8 L771.3 377.5"/>
<path d="M761.3 386.3 L770.1 391.3"/>
<path d="M760.7 377.5 L760.0 386.3 L761.3 386.3"/>
<path d="M753.7 376.3 L755.0 386.3 L753.7 395.1 L757.9 397.8"/>
<path d="M728.6 373.7 L734.9 377.5 L733.6 386.3 L729.8 391.3"/>
<path d="M728.6 358.6 L732.4 364.9 L728.6 373.7"/>
<path d="M741.2 359.9 L734.9 361.2 L728.6 358.6"/>
<path d="M732.4 364.9 L740.5 370.0"/>
<path d="M737.0 332.0 L735.0 340.0 L738.0 348.0 L744.0 352.0"/>
<path d="M735.0 340.0 L728.0 346.0 L722.0 352.0 L716.0 358.0"/>
<path d="M728.6 358.6 L722.0 357.0 L716.0 358.0 L710.0 356.0"/>
<path d="M728.6 373.7 L722.6 378.0"/>
<path d="M747.4 373.7 L746.0 380.0 L740.0 384.0 L733.6 386.3"/>
<path d="M755.0 386.3 L760.0 386.3"/>
<path d="M763.2 359.9 L768.0 358.5"/>
<path d="M703.0 345.0 L710.0 345.0 L710.0 356.0 L700.0 358.0 L696.0 352.0"/>
<path d="M700.0 358.0 L698.0 368.0 L704.0 372.0 L710.0 368.0 L710.0 356.0"/>
<path d="M690.0 364.0 L698.0 368.0"/>
<path d="M704.0 372.0 L705.0 381.0"/>
<path d="M710.0 368.0 L716.0 372.0 L717.0 379.0"/>
<path d="M734.5 252.4 L741.4 248.6"/>
<path d="M741.4 248.6 L743.9 256.1 L745.8 263.7 L744.6 272.5"/>
<path d="M737.6 282.5 L743.9 283.8 L746.4 280.0 L744.6 275.0"/>
<path d="M737.5 279.0 L743.0 279.5 L746.4 280.0"/>
<path d="M743.9 283.8 L751.5 286.3 L754.0 290.1 L746.4 292.6 L741.4 291.3 L738.9 287.6 L737.0 286.3"/>
<path d="M746.4 292.6 L754.0 290.1 L761.5 292.6 L764.1 296.4 L761.5 300.2 L754.0 301.4 L749.0 298.9 L743.9 296.4 L741.4 291.3"/>
<path d="M726.3 287.8 L727.6 295.1 L725.7 298.9"/>
<path d="M717.5 291.3 L718.8 296.4 L717.5 301.4 L716.5 305.0"/>
<path d="M725.7 298.9 L731.0 298.0 L736.0 296.5 L741.4 296.0"/>
<path d="M725.7 298.9 L722.0 301.0 L717.5 301.4"/>
<path d="M722.0 301.0 L724.0 304.5 L727.7 304.9"/>
<path d="M731.0 298.0 L732.0 302.0 L736.0 304.0 L741.0 302.0 L743.9 296.4"/>
<path d="M736.0 304.0 L737.0 309.0 L740.0 312.0 L743.0 311.0"/>
<path d="M741.0 302.0 L746.0 304.0 L749.1 304.9"/>
<path d="M727.7 304.9 L732.0 305.5 L736.0 304.0"/>
<path d="M740.0 312.0 L738.5 316.0"/>
<path d="M705.1 311.2 L707.0 313.0"/>
<path d="M716.5 305.0 L713.0 306.5 L716.4 309.9"/>
<path d="M716.5 305.0 L721.0 305.5 L722.7 307.4"/>
<path d="M693.8 312.5 L695.5 321.5"/>
<path d="M720.0 285.1 L720.2 287.8"/>
<path d="M712.5 292.6 L714.0 296.0 L717.5 297.0"/>
<path d="M763.0 323.1 L770.5 321.8 L778.0 322.5"/>
<path d="M778.0 322.5 L776.8 327.5 L780.6 332.5 L778.0 333.8"/>
<path d="M763.0 327.5 L770.5 326.2 L776.8 327.5"/>
<path d="M764.2 331.3 L770.5 333.8 L778.0 334.4"/>
<path d="M761.7 327.5 L764.2 331.3 L761.0 334.0"/>
<path d="M780.6 314.9 L785.6 317.4 L793.1 316.2 L796.9 320.0 L795.7 327.5 L799.4 332.5 L798.2 340.1 L800.3 343.0"/>
<path d="M776.8 304.9 L780.6 307.4 L781.2 313.7 L779.3 318.7 L777.4 317.4 L778.0 312.4 L776.2 308.6 L776.8 304.9"/>
<path d="M767.4 313.0 L771.0 314.5 L776.0 316.5 L778.0 322.5"/>
<path d="M771.0 314.5 L773.0 311.0 L777.0 310.0"/>
<path d="M770.1 351.7 L776.0 349.0 L783.0 349.5 L788.0 346.0"/>
<path d="M776.4 361.8 L778.0 356.0 L783.0 352.0 L790.2 354.9"/>
<path d="M783.0 349.5 L783.0 352.0"/>
<path d="M781.2 313.7 L786.0 312.0 L792.0 313.5 L796.0 311.0 L801.0 312.5 L804.0 316.0"/>
<path d="M796.9 320.0 L801.0 319.0 L804.0 316.0 L809.0 316.5 L813.0 319.0"/>
<path d="M795.7 327.5 L802.0 327.0 L806.0 323.0 L813.0 319.0 L816.0 325.0"/>
<path d="M773.5 292.5 L776.0 298.0 L781.0 300.5 L786.0 300.0 L793.0 302.0 L801.0 297.5 L809.0 299.0 L818.5 295.0 L826.0 296.0 L831.0 290.0 L836.0 285.0"/>
<path d="M793.0 302.0 L796.0 306.0 L801.0 305.0 L806.0 308.0 L811.0 306.0 L816.0 309.0 L818.5 305.0 L826.0 302.0 L826.0 296.0"/>
<path d="M796.0 306.0 L796.0 311.0"/>
<path d="M806.0 308.0 L804.0 316.0"/>
<path d="M816.0 309.0 L813.0 319.0"/>
<path d="M765.0 290.0 L769.0 285.5 L775.0 283.0 L783.0 283.5 L790.0 280.0 L798.0 282.0 L805.0 284.0 L812.0 281.0 L818.0 281.0 L825.0 284.0 L832.0 287.0 L836.0 285.0"/>
<path d="M765.0 290.0 L768.0 293.0 L773.5 292.5"/>
<path d="M836.0 285.0 L845.0 283.0 L852.0 285.5 L860.0 286.0 L868.0 283.5 L876.0 284.0 L884.0 287.0 L890.0 290.0 L887.0 294.0 L884.0 298.0 L876.0 301.0 L868.0 304.0 L858.0 304.0 L850.0 303.0 L843.0 300.0 L838.0 297.0 L834.0 291.0 L836.0 285.0"/>
<path d="M890.0 290.0 L895.0 287.5 L900.0 285.0 L906.0 282.5 L911.0 283.8"/>
<path d="M890.0 290.0 L896.0 293.0 L901.0 298.0 L906.5 301.3"/>
<path d="M816.0 325.0 L820.0 329.0 L826.0 330.0 L831.0 333.0 L836.0 332.5 L841.0 333.5 L846.0 331.2 L850.0 332.0 L853.5 333.8"/>
<path d="M818.5 345.0 L822.2 340.0 L821.0 335.0 L818.5 331.0 L818.5 327.5 L816.0 325.0"/>
<path d="M826.0 330.0 L829.0 334.0 L836.0 336.0 L841.0 336.5 L841.0 333.5"/>
<path d="M846.0 331.2 L846.5 336.0 L849.0 338.0 L848.0 343.0 L850.5 346.0"/>
<path d="M846.5 336.0 L841.0 336.5"/>
<path d="M853.5 333.8 L857.0 337.0 L858.5 340.0 L857.0 345.0 L861.0 347.5 L859.0 352.0 L861.0 358.0 L863.0 363.0"/>
<path d="M858.5 340.0 L864.0 338.5 L868.5 342.5 L872.2 346.0 L873.5 349.0"/>
<path d="M864.0 338.5 L868.0 336.0 L873.0 338.0 L876.0 340.0 L880.1 341.0"/>
<path d="M861.0 347.5 L865.0 347.0 L868.5 350.0 L872.0 353.0 L875.2 352.4"/>
<path d="M868.5 350.0 L868.0 356.0 L871.0 360.0 L875.2 361.2"/>
<path d="M891.4 310.1 L895.0 308.5 L899.0 307.6"/>
<path d="M897.7 313.9 L901.5 313.9"/>
<path d="M813.0 319.0 L816.0 319.0 L818.5 322.0 L816.0 325.0"/>
<path d="M868.0 366.0 L866.0 370.0"/>
</g>
<path d="M522.5 291.2 L547.5 292.5 L565.0 293.8 L575.0 297.5 L580.0 302.5 L582.5 307.5 L590.0 306.2 L597.5 303.8 L601.2 301.2 L605.0 300.0 L605.8 303.8 L602.5 306.2 L598.8 308.8 L596.2 311.2 L592.5 315.0 L590.0 320.0 L587.5 325.0 L583.8 328.8 L580.0 331.2 L579.8 333.0 L580.8 336.8 L581.4 340.6 L579.6 342.8 L577.2 338.1 L576.0 333.9 L573.8 332.5 L568.8 333.0 L563.8 333.8 L560.0 335.5 L555.0 336.2 L552.5 340.0 L550.0 337.5 L547.5 333.8 L543.8 333.0 L541.2 330.0 L536.2 328.8 L530.0 328.0 L526.2 327.0 L522.5 322.5 L519.5 317.5 L518.0 311.2 L518.8 305.0 L520.5 298.8 L522.0 293.8Z" fill="#2B6446"/>
<path d="M726.3 253.6 L730.1 251.3 L733.2 252.4 L734.5 256.1 L733.2 261.2 L731.3 264.9 L730.7 268.7 L731.3 272.5 L730.1 276.3 L728.2 280.0 L726.3 283.8 L723.8 285.3 L721.9 283.2 L720.7 278.8 L720.3 272.5 L720.7 266.2 L721.9 261.2 L723.8 256.8Z" fill="#2B6446"/>
<path d="M696.9 279.6 L700.4 278.6 L701.6 281.3 L701.2 284.5 L702.6 285.6 L704.2 287.6 L706.0 290.1 L707.4 293.2 L706.4 296.0 L702.2 296.8 L698.2 297.6 L697.6 295.3 L699.6 292.8 L698.6 289.5 L697.6 286.3 L697.2 282.5Z" fill="#2B6446"/>
<circle cx="712.4" cy="292.6" r="2.1" fill="#2B6446"/>
</g>
<path d="M547.6 255.4 V293" stroke="#4a4a3a" stroke-width="0.9" fill="none"/>
<path d="M698.2 281 H672.3 V330.6" stroke="#4a4a3a" stroke-width="0.9" fill="none"/>
<path d="M731 265.5 H796.4" stroke="#4a4a3a" stroke-width="0.9" fill="none"/>
<path d="M712.4 292.8 L797 359.3" stroke="#5b7fa0" stroke-width="0.8" fill="none"/>
<circle cx="543.3" cy="210.4" r="45.4" fill="#FAAA19" stroke="#5E4A14" stroke-width="1.1"/>
<circle cx="579.8" cy="166.8" r="23.6" fill="#2B6446"/>
<text x="561.9" y="172.6" font-size="13.5" fill="#EBCB55" font-weight="bold" text-anchor="start" textLength="36.3" lengthAdjust="spacingAndGlyphs">+250%</text>
<text x="525.5" y="203.6" font-size="14.2" fill="#55321A" font-weight="normal" text-anchor="start" textLength="38.4" lengthAdjust="spacingAndGlyphs">Estados</text>
<text x="528.8" y="216.4" font-size="14.2" fill="#55321A" font-weight="normal" text-anchor="start" textLength="31.8" lengthAdjust="spacingAndGlyphs">Unidos</text>
<text x="512.2" y="232.2" font-size="16.0" fill="#2C6834" font-weight="bold" text-anchor="start" textLength="64.0" lengthAdjust="spacingAndGlyphs" stroke="#2C6834" stroke-width="0.35">US$ 0.98</text>
<circle cx="841.4" cy="277.4" r="45.2" fill="#FAAA19" stroke="#5E4A14" stroke-width="1.1"/>
<circle cx="884.8" cy="247.3" r="23.7" fill="#2B6446"/>
<text x="866.8" y="253.5" font-size="13.5" fill="#EBCB55" font-weight="bold" text-anchor="start" textLength="36.6" lengthAdjust="spacingAndGlyphs">+121%</text>
<text x="825.5" y="274.1" font-size="14.2" fill="#55321A" font-weight="normal" text-anchor="start" textLength="31.0" lengthAdjust="spacingAndGlyphs">Suecia</text>
<text x="809.1" y="289.9" font-size="16.0" fill="#2C6834" font-weight="bold" text-anchor="start" textLength="65.6" lengthAdjust="spacingAndGlyphs" stroke="#2C6834" stroke-width="0.35">US$ 0.45</text>
<circle cx="672.2" cy="376.6" r="46.3" fill="#FAAA19" stroke="#5E4A14" stroke-width="1.1"/>
<circle cx="710.8" cy="348.3" r="23.6" fill="#2B6446"/>
<text x="692.4" y="354.1" font-size="13.5" fill="#EBCB55" font-weight="bold" text-anchor="start" textLength="37.4" lengthAdjust="spacingAndGlyphs">+103%</text>
<text x="656.7" y="367" font-size="14.2" fill="#55321A" font-weight="normal" text-anchor="start" textLength="27.3" lengthAdjust="spacingAndGlyphs">Reino</text>
<text x="657.6" y="379.5" font-size="14.2" fill="#55321A" font-weight="normal" text-anchor="start" textLength="26.0" lengthAdjust="spacingAndGlyphs">Unido</text>
<text x="639.1" y="396.09999999999997" font-size="16.0" fill="#2C6834" font-weight="bold" text-anchor="start" textLength="65.6" lengthAdjust="spacingAndGlyphs" stroke="#2C6834" stroke-width="0.35">US$ 0.45</text>
<circle cx="820.7" cy="402.9" r="46.1" fill="#FAAA19" stroke="#5E4A14" stroke-width="1.1"/>
<circle cx="879.4" cy="387.2" r="23.6" fill="#2B6446"/>
<text x="865.8" y="392.9" font-size="13.5" fill="#EBCB55" font-weight="bold" text-anchor="start" textLength="27.8" lengthAdjust="spacingAndGlyphs">-12%</text>
<text x="807.1" y="390.8" font-size="14.2" fill="#55321A" font-weight="normal" text-anchor="start" textLength="31.4" lengthAdjust="spacingAndGlyphs">Países</text>
<text x="810.2" y="403.2" font-size="14.2" fill="#55321A" font-weight="normal" text-anchor="start" textLength="25.8" lengthAdjust="spacingAndGlyphs">Bajos</text>
<text x="790.1" y="419.8" font-size="16.0" fill="#2C6834" font-weight="bold" text-anchor="start" textLength="65.4" lengthAdjust="spacingAndGlyphs" stroke="#2C6834" stroke-width="0.35">US$ 0.44</text>
<circle cx="649.2" cy="483.1" r="6.8" fill="#FAAA19" stroke="#5E4A14" stroke-width="0.9"/>
<text x="662.5" y="485.2" font-size="10" fill="#4b3a22" font-weight="normal" text-anchor="start" textLength="47" lengthAdjust="spacingAndGlyphs">Precio por kilo</text>
<circle cx="750.3" cy="483.1" r="7.2" fill="#2B6446"/>
<text x="764.4" y="485.2" font-size="10" fill="#4b3a22" font-weight="normal" text-anchor="start" textLength="63" lengthAdjust="spacingAndGlyphs">Var. % en volumen</text>
<text x="910" y="496.2" font-size="10.4" fill="#FFF6D8" font-weight="bold" text-anchor="start" textLength="64.3" lengthAdjust="spacingAndGlyphs" stroke="#FFF6D8" stroke-width="0.3">Fuente: Sunat</text>
</svg></body></html>
